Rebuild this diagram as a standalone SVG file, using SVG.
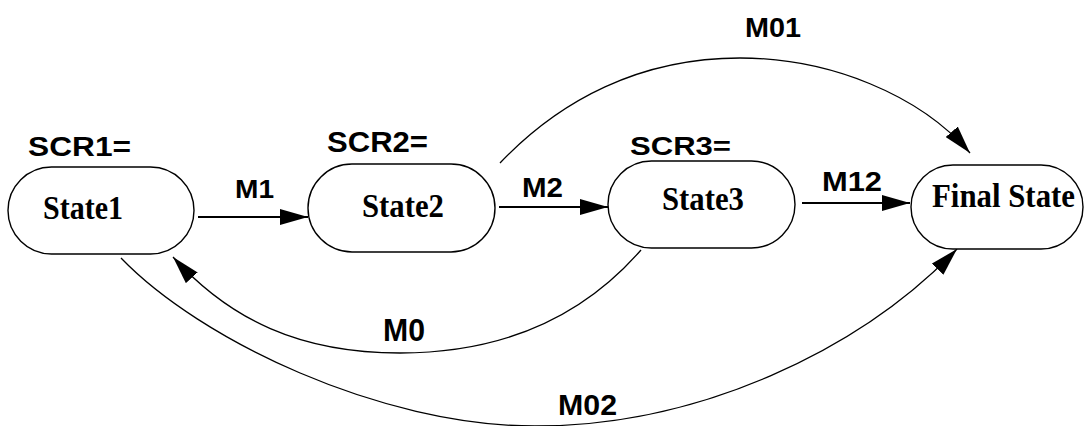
<svg xmlns="http://www.w3.org/2000/svg" width="1086" height="426" viewBox="0 0 1086 426">
<style>
.node{fill:#fff;stroke:#000;stroke-width:1.4}
.st{font-family:"Liberation Serif","Times New Roman",serif;font-weight:bold;font-size:33px;fill:#000}
.lb{font-family:"Liberation Sans",Arial,sans-serif;font-weight:bold;fill:#000}
.ln{fill:none;stroke:#000;stroke-width:2}
.cv{fill:none;stroke:#000;stroke-width:1.3}
</style>
<defs>
<marker id="ah" markerUnits="userSpaceOnUse" markerWidth="28" markerHeight="16" refX="28" refY="8" orient="auto" viewBox="0 0 28 16">
<path d="M0,0 L28,8 L0,16 z" fill="#000"/>
</marker>
</defs>
<rect width="1086" height="426" fill="#fff"/>
<g id="connectors">
<path class="ln" d="M198,217 L308,217" marker-end="url(#ah)"/>
<path class="ln" d="M499,207 L608,207" marker-end="url(#ah)"/>
<path class="ln" d="M802,203 L910,203" marker-end="url(#ah)"/>
<path class="cv" d="M500,163 C560,100 640,58 740,58 C830,58 920,95 970,153" marker-end="url(#ah)"/>
<path class="cv" d="M641,250 C580,320 500,353 400,353 C300,353 230,320 173,257" marker-end="url(#ah)"/>
<path class="cv" d="M121,258 C200,340 380,426 535,426 C700,426 860,350 957,249" marker-end="url(#ah)"/>
<text class="lb" x="235" y="198" font-size="25" textLength="39" lengthAdjust="spacingAndGlyphs">M1</text>
<text class="lb" x="522" y="197" font-size="28" textLength="41" lengthAdjust="spacingAndGlyphs">M2</text>
<text class="lb" x="822" y="191" font-size="27" textLength="60" lengthAdjust="spacingAndGlyphs">M12</text>
<text class="lb" x="745" y="37" font-size="28" textLength="56" lengthAdjust="spacingAndGlyphs">M01</text>
<text class="lb" x="383" y="341" font-size="31" textLength="42" lengthAdjust="spacingAndGlyphs">M0</text>
<text class="lb" x="558" y="415" font-size="30" textLength="59" lengthAdjust="spacingAndGlyphs">M02</text>
</g>
<g id="state1">
<text class="lb" x="28" y="156" font-size="27" textLength="103" lengthAdjust="spacingAndGlyphs">SCR1=</text>
<rect class="node" x="8" y="167" width="186" height="87" rx="43.5"/>
<text class="st" x="43" y="219" textLength="80" lengthAdjust="spacingAndGlyphs">State1</text>
</g>
<g id="state2">
<text class="lb" x="327" y="152" font-size="29" textLength="101" lengthAdjust="spacingAndGlyphs">SCR2=</text>
<rect class="node" x="308" y="164" width="187" height="88" rx="44"/>
<text class="st" x="362" y="217" textLength="82" lengthAdjust="spacingAndGlyphs">State2</text>
</g>
<g id="state3">
<text class="lb" x="630" y="155" font-size="26" textLength="101" lengthAdjust="spacingAndGlyphs">SCR3=</text>
<rect class="node" x="608" y="161" width="187" height="87" rx="43.5"/>
<text class="st" x="662" y="210" textLength="82" lengthAdjust="spacingAndGlyphs">State3</text>
</g>
<g id="final">
<rect class="node" x="911" y="165" width="172" height="84" rx="42"/>
<text class="st" x="932" y="207" textLength="143" lengthAdjust="spacingAndGlyphs">Final State</text>
</g>
</svg>
